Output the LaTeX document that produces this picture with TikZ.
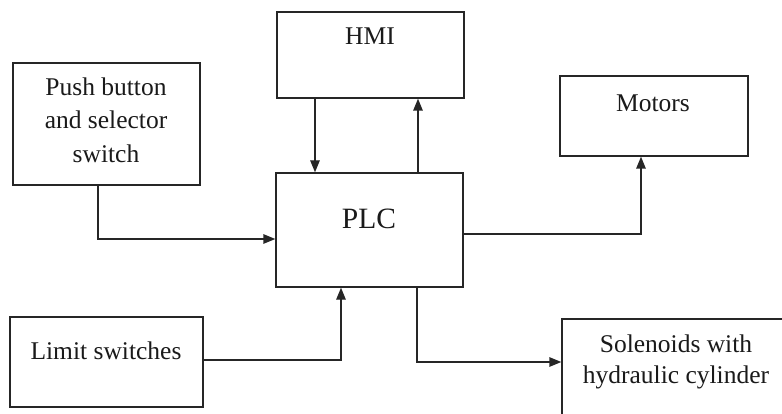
\documentclass[tikz,border=0pt]{standalone}
\usepackage{fontspec}
\setmainfont{Liberation Serif}
\usetikzlibrary{arrows.meta}
\definecolor{linec}{HTML}{262626}
\definecolor{txtc}{HTML}{1A1A1A}
\begin{document}
\begin{tikzpicture}[x=1pt,y=-1pt,
  box/.style={draw=linec, line width=1.4pt, rectangle, inner sep=0pt},
  lbl/.style={font=\fontsize{25.5}{33.5}\selectfont, align=center, inner sep=0pt, text=txtc},
  arr/.style={draw=linec, line width=1.4pt, -{Triangle[length=12pt,width=9.5pt]}},
]
\clip (0,0) rectangle (782,414);
\fill[white] (0,0) rectangle (782,414);

% blocks
\node[box, minimum width=187pt, minimum height=122pt] (push)   at (106.5,124)  {};
\node[box, minimum width=187pt, minimum height=86pt]  (hmi)    at (370.5,55)   {};
\node[box, minimum width=188pt, minimum height=80pt]  (motors) at (654,116)    {};
\node[box, minimum width=187pt, minimum height=114pt] (plc)    at (369.5,230)  {};
\node[box, minimum width=193pt, minimum height=90pt]  (limit)  at (106.5,362)  {};
\node[box, minimum width=228pt, minimum height=101pt] (sol)    at (676,369.5)  {};

% block captions
\node[lbl] (pushtxt) at (106,120) {Push button\\and selector\\switch};
\node[lbl, anchor=base] (hmitxt) at (370,45) {HMI};
\node[lbl, anchor=base] (mottxt) at (653,112) {Motors};
\node[lbl, anchor=base, font=\fontsize{29.5}{35}\selectfont] (plctxt) at (369,229) {PLC};
\node[lbl, anchor=base] (limtxt) at (106,359) {Limit switches};
\node[lbl, font=\fontsize{25.5}{31.6}\selectfont] (soltxt) at (676,362) {Solenoids with\\hydraulic cylinder};

% signal paths
\draw[arr] (push.south -| 98,0) |- (plc.west |- 0,239);
\draw[arr] (hmi.south -| 315,0) -- (plc.north -| 315,0);
\draw[arr] (plc.north -| 418,0) -- (hmi.south -| 418,0);
\draw[arr] (plc.east |- 0,234) -| (motors.south -| 641,0);
\draw[arr] (limit.east |- 0,360) -| (plc.south -| 341,0);
\draw[arr] (plc.south -| 417,0) |- (sol.west |- 0,362);
\end{tikzpicture}
\end{document}
